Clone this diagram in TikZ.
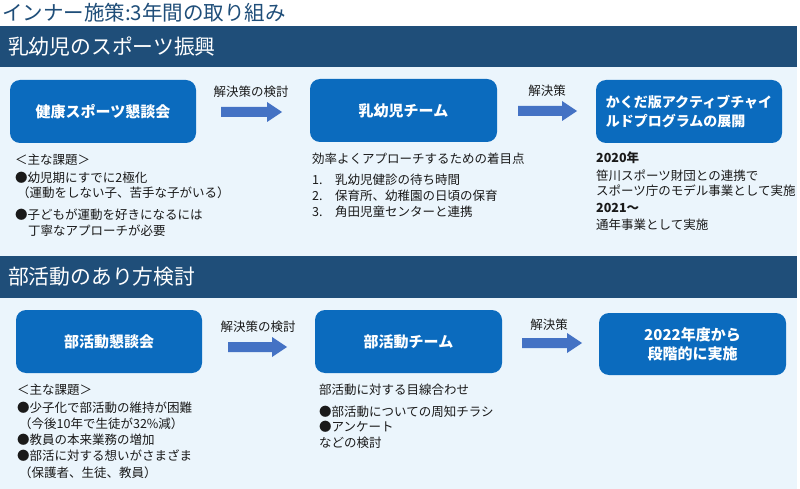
\documentclass[tikz,border=0pt]{standalone}
\usepackage{fontspec}
\setmainfont{Noto Sans CJK JP}
\definecolor{barc}{HTML}{1F4E79}
\definecolor{panelc}{HTML}{EBF5FC}
\definecolor{boxc}{HTML}{0B6BBE}
\definecolor{arrc}{HTML}{4472C4}
\definecolor{txtc}{HTML}{1A1A1A}
\newcommand\blockarr[3]{%
  \fill[arrc] (#1,#3-5) -- (#2-15,#3-5) -- (#2-15,#3-10) -- (#2,#3) -- (#2-15,#3+10) -- (#2-15,#3+5) -- (#1,#3+5) -- cycle;}
\begin{document}
\begin{tikzpicture}[x=1pt,y=-1pt,
  bluebox/.style={fill=boxc, rounded corners=10pt, text=white, inner sep=0pt,
    font=\fontsize{15}{19}\selectfont\bfseries, align=center},
  body/.style={anchor=west, inner sep=0pt, text=txtc, font=\fontsize{12.5}{15}\selectfont},
  bodyb/.style={body, font=\fontsize{12.5}{15}\selectfont\bfseries},
  lbl/.style={inner sep=0pt, text=txtc, font=\fontsize{12.5}{15}\selectfont},
  head/.style={anchor=west, inner sep=0pt, text=white, font=\fontsize{20.8}{24}\selectfont}]
\useasboundingbox (0,0) rectangle (800,489);
\fill[white] (0,0) rectangle (800,489);
% title
\node[anchor=west, inner sep=0pt, text=barc, font=\fontsize{20.5}{24}\selectfont] (title) at (2,13) {インナー施策:3年間の取り組み};
% bars and panels
\fill[barc] (0,26) rectangle (797,67);
\fill[panelc] (0,67) rectangle (797,256);
\fill[barc] (0,256) rectangle (797,298);
\fill[panelc] (0,298) rectangle (797,489);
\node[head] (h1) at (8,47) {乳幼児のスポーツ振興};
\node[head] (h2) at (8,277) {部活動のあり方検討};
% top row boxes
\node[bluebox, minimum width=186pt, minimum height=63pt] (b1) at (103,111.5) {健康スポーツ懇談会};
\node[bluebox, minimum width=187pt, minimum height=63pt] (b2) at (403.5,110.5) {乳幼児チーム};
\node[bluebox, minimum width=186pt, minimum height=63pt, align=left, font=\fontsize{14}{19}\selectfont\bfseries] (b3) at (689,111.5) {かくだ版アクティブチャイ\\ルドプログラムの展開};
% top arrows
\blockarr{221}{282}{112}
\node[lbl] (a1) at (251,92) {解決策の検討};
\blockarr{518}{577}{111}
\node[lbl] (a2) at (547,91) {解決策};
% top texts
\node[body] (t11) at (15,160) {＜主な課題＞};
\node[body] (t12) at (15,178) {●幼児期にすでに2極化};
\node[body] (t13) at (17,193) {（運動をしない子、苦手な子がいる）};
\node[body] (t14) at (15,215) {●子どもが運動を好きになるには};
\node[body] (t15) at (28,231) {丁寧なアプローチが必要};
\node[body] (t21) at (312,159) {効率よくアプローチするための着目点};
\node[body] (n1) at (312,180) {1.};
\node[body] (t22) at (335,180) {乳幼児健診の待ち時間};
\node[body] (n2) at (312,196) {2.};
\node[body] (t23) at (335,196) {保育所、幼稚園の日頃の保育};
\node[body] (n3) at (312,212) {3.};
\node[body] (t24) at (335,212) {角田児童センターと連携};
\node[bodyb] (t31) at (596,158) {2020年};
\node[body] (t32) at (596,176) {笹川スポーツ財団との連携で};
\node[body] (t33) at (596,191) {スポーツ庁のモデル事業として実施};
\node[bodyb] (t34) at (596,208) {2021～};
\node[body] (t35) at (596,225) {通年事業として実施};
% bottom row boxes
\node[bluebox, minimum width=186pt, minimum height=63pt] (b4) at (109,341.5) {部活動懇談会};
\node[bluebox, minimum width=187pt, minimum height=63pt] (b5) at (408.5,341.5) {部活動チーム};
\node[bluebox, minimum width=187pt, minimum height=62pt] (b6) at (692.5,344) {2022年度から\\段階的に実施};
% bottom arrows
\blockarr{228}{287}{347}
\node[lbl] (a3) at (258,327) {解決策の検討};
\blockarr{522}{582}{343}
\node[lbl] (a4) at (549,325) {解決策};
% bottom texts
\node[body] (u11) at (17,390) {＜主な課題＞};
\node[body] (u12) at (17,408) {●少子化で部活動の維持が困難};
\node[body] (u13) at (19,424) {（今後10年で生徒が32\%減）};
\node[body] (u14) at (17,440) {●教員の本来業務の増加};
\node[body] (u15) at (17,456) {●部活に対する想いがさまざま};
\node[body] (u16) at (19,473) {（保護者、生徒、教員）};
\node[body] (u21) at (319,390) {部活動に対する目線合わせ};
\node[body] (u22) at (319,412) {●部活動についての周知チラシ};
\node[body] (u23) at (319,427) {●アンケート};
\node[body] (u24) at (319,443) {などの検討};
\end{tikzpicture}
\end{document}
